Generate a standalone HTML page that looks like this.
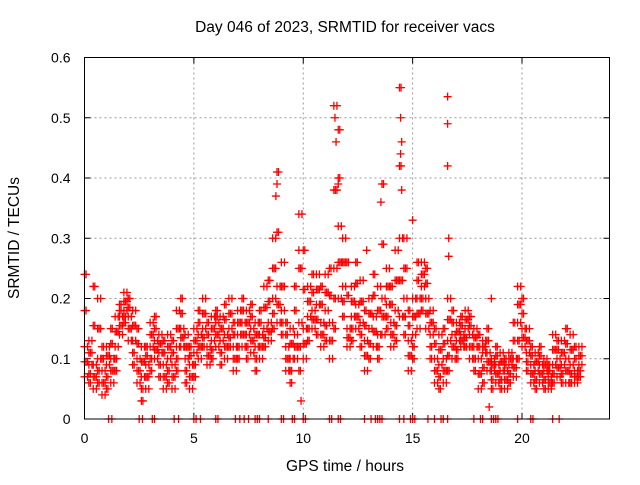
<!DOCTYPE html>
<html><head><meta charset="utf-8"><style>
body{margin:0;background:#fff;width:640px;height:480px;overflow:hidden}
svg{font-family:"Liberation Sans",sans-serif;font-size:14px}
</style></head><body>
<svg id="chart" width="640" height="480">
<text x="345" y="32" text-anchor="middle" font-size="15.5">Day 046 of 2023, SRMTID for receiver vacs</text>
<text x="345" y="471" text-anchor="middle" font-size="15.5">GPS time / hours</text>
<text transform="translate(19,238) rotate(-90)" text-anchor="middle" font-size="15.5">SRMTID / TECUs</text>
<g id="grid"></g>
<g id="ticks"></g>
<g id="marks"></g>
<rect x="84.5" y="57.5" width="525" height="361.5" fill="none" stroke="#000" stroke-width="1"/>
</svg>
<script>
const xTicks=[0,5,10,15,20];
const yTicks=[0,0.1,0.2,0.3,0.4,0.5,0.6];
const yTickLabels=["0","0.1","0.2","0.3","0.4","0.5","0.6"];
const times=[0,0.2,0.4,0.6,0.8,1,1.2,1.4,1.6,1.8,2,2.2,2.4,2.6,2.8,3,3.2,3.4,3.6,3.8,4,4.2,4.4,4.6,4.8,5,5.2,5.4,5.6,5.8,6,6.2,6.4,6.6,6.8,7,7.2,7.4,7.6,7.8,8,8.2,8.4,8.6,8.8,9,9.2,9.4,9.6,9.8,10,10.2,10.4,10.6,10.8,11,11.2,11.4,11.6,11.8,12,12.2,12.4,12.6,12.8,13,13.2,13.4,13.6,13.8,14,14.2,14.4,14.6,14.8,15,15.2,15.4,15.6,15.8,16,16.2,16.4,16.6,16.8,17,17.2,17.4,17.6,17.8,18,18.2,18.4,18.6,18.8,19,19.2,19.4,19.6,19.8,20,20.2,20.4,20.6,20.8,21,21.2,21.4,21.6,21.8,22,22.2,22.4,22.6];
const lowVals=[.07,.06,.05,.06,.04,.05,.06,.08,.14,.16,.13,.09,.06,.03,.05,.08,.10,.07,.05,.06,.05,.08,.12,.06,.05,.07,.10,.12,.09,.10,.12,.09,.10,.12,.08,.10,.12,.10,.11,.08,.10,.12,.13,.15,.16,.14,.08,.06,.10,.08,.10,.13,.15,.14,.12,.13,.10,.15,.20,.17,.12,.13,.15,.12,.08,.10,.12,.10,.14,.15,.12,.13,.17,.14,.08,.10,.15,.18,.15,.10,.06,.05,.06,.08,.10,.10,.12,.12,.10,.08,.05,.06,.08,.05,.06,.05,.05,.06,.07,.10,.12,.08,.06,.05,.06,.05,.05,.06,.07,.06,.06,.06,.06,.07];
const q1Vals=[.095,.075,.07,.08,.06,.07,.08,.10,.155,.17,.15,.11,.08,.05,.07,.10,.115,.09,.07,.08,.07,.10,.135,.08,.07,.09,.12,.135,.105,.115,.14,.11,.12,.135,.10,.12,.14,.12,.13,.10,.12,.135,.145,.175,.19,.16,.10,.08,.12,.12,.125,.15,.165,.165,.14,.155,.13,.20,.26,.195,.135,.15,.17,.14,.105,.125,.145,.12,.17,.17,.14,.155,.23,.17,.105,.12,.175,.20,.175,.12,.08,.07,.08,.105,.12,.115,.13,.135,.12,.10,.075,.085,.095,.065,.075,.065,.065,.075,.085,.13,.135,.095,.075,.065,.075,.065,.06,.075,.085,.075,.08,.075,.07,.08];
const midVals=[.12,.09,.09,.10,.08,.09,.10,.12,.17,.18,.17,.13,.10,.07,.09,.12,.13,.11,.09,.10,.09,.12,.15,.10,.09,.11,.14,.15,.12,.13,.16,.13,.14,.15,.12,.14,.16,.14,.15,.12,.14,.15,.16,.20,.22,.18,.12,.10,.14,.16,.15,.17,.18,.19,.16,.18,.16,.25,.32,.22,.15,.17,.19,.16,.13,.15,.17,.14,.20,.19,.16,.18,.30,.20,.13,.14,.20,.22,.20,.14,.10,.09,.10,.13,.14,.13,.14,.15,.14,.12,.10,.11,.11,.08,.09,.08,.08,.09,.10,.16,.15,.11,.09,.08,.09,.08,.07,.09,.10,.09,.10,.09,.08,.09];
const q3Vals=[.18,.11,.155,.15,.10,.105,.125,.145,.18,.195,.185,.155,.125,.095,.105,.14,.15,.125,.11,.12,.11,.15,.175,.12,.105,.13,.16,.175,.14,.15,.17,.15,.165,.175,.14,.16,.18,.16,.17,.14,.16,.185,.195,.25,.31,.22,.14,.125,.18,.25,.215,.195,.21,.215,.19,.21,.205,.38,.40,.26,.205,.195,.225,.195,.155,.175,.205,.18,.29,.22,.19,.23,.42,.25,.155,.17,.23,.24,.225,.16,.125,.115,.125,.165,.16,.145,.155,.165,.155,.135,.12,.12,.13,.09,.105,.095,.09,.10,.13,.19,.175,.13,.105,.095,.105,.09,.08,.115,.115,.11,.125,.115,.10,.105];
const highVals=[.24,.13,.22,.20,.12,.12,.15,.17,.19,.21,.20,.18,.15,.12,.12,.16,.17,.14,.13,.14,.13,.18,.20,.14,.12,.15,.18,.20,.16,.17,.18,.17,.19,.20,.16,.18,.20,.18,.19,.16,.18,.22,.23,.30,.41,.26,.16,.15,.22,.34,.28,.22,.24,.24,.22,.24,.25,.52,.48,.30,.26,.22,.26,.23,.18,.20,.24,.22,.39,.25,.22,.28,.55,.30,.18,.20,.26,.26,.25,.18,.15,.14,.15,.20,.18,.16,.17,.18,.17,.15,.14,.13,.15,.10,.12,.11,.10,.11,.16,.22,.20,.15,.12,.11,.12,.10,.09,.14,.13,.13,.15,.14,.12,.12];
const spikeTimes=[16.6,16.6,16.6,16.65,16.65,9.8,14.45,14.45,14.5,11.5,11.6,13.55,18.6,8.75,8.8,12.9,9.9,18.5,14.5,11.45,15.0];
const spikeVals=[.535,.49,.42,.30,.27,.28,.50,.44,.38,.46,.39,.36,.20,.37,.39,.28,.03,.02,.46,.50,.33];
const zeroTimes=[1.1,1.25,2.5,2.65,3.1,3.2,4.1,4.3,5.0,5.1,5.3,6.0,6.1,6.9,7.1,7.3,7.5,7.8,7.9,8.0,8.4,9.0,9.1,9.5,9.6,10.0,10.1,11.2,11.3,11.6,11.7,12.8,13.1,13.3,13.4,13.5,13.6,14.4,14.6,14.9,15.0,15.1,15.7,16.0,16.3,16.4,16.6,17.8,18.1,18.2,18.6,18.7,18.8,18.9,19.8,20.4,20.5,21.4,21.7];
const NS='http://www.w3.org/2000/svg';
const X0=84.5,X1=609.5,Y0=419,Y1=57.5;
const xs=t=>X0+(X1-X0)*t/24;
const ys=v=>Y0-(Y0-Y1)*v/0.6;
function mk(tag,attrs,parent){const e=document.createElementNS(NS,tag);for(const k in attrs)e.setAttribute(k,attrs[k]);parent.appendChild(e);return e;}
const grid=document.getElementById('grid'),ticks=document.getElementById('ticks'),marks=document.getElementById('marks');
xTicks.forEach(t=>{const x=xs(t);
 if(t>0){const g=mk('line',{x1:x,x2:x,y1:Y1,y2:Y0,stroke:'#999','stroke-dasharray':'2,3'},grid);
 
 }
 mk('line',{x1:x,x2:x,y1:Y0,y2:Y0-6,stroke:'#000'},ticks);
 mk('line',{x1:x,x2:x,y1:Y1,y2:Y1+6,stroke:'#000'},ticks);
 const l=mk('text',{x:x,y:Y0+24,'text-anchor':'middle'},ticks);l.textContent=t;
 
 });
yTicks.forEach((v,i)=>{const y=ys(v);
 if(v>0&&v<0.6){const g=mk('line',{x1:X0,x2:X1,y1:y,y2:y,stroke:'#999','stroke-dasharray':'2,3'},grid);
 
 }
 mk('line',{x1:X0,x2:X0+6,y1:y,y2:y,stroke:'#000'},ticks);
 mk('line',{x1:X1,x2:X1-6,y1:y,y2:y,stroke:'#000'},ticks);
 const l=mk('text',{x:X0-14,y:y+5,'text-anchor':'end'},ticks);l.textContent=yTickLabels[i];
 
 });
function cross(t,v,col){const x=xs(t),y=ys(v);
 const p=mk('path',{d:`M${x-4},${y}h8M${x},${y-4}v8`,stroke:col,'stroke-width':1.3,fill:'none'},marks);
 
 }
times.forEach((t,i)=>{
 const a=lowVals[i],b=q1Vals[i],m=midVals[i],c=q3Vals[i],h=highVals[i];
 cross(t,a,'#f00');cross(t,b,'#f00');cross(t,m,'#f00');cross(t,c,'#f00');cross(t,h,'#f00');
 cross(t+0.07,b,'#f00');cross(t+0.07,c,'#f00');cross(t+0.07,(i%2?a:h),'#f00');
 cross(t+0.14,m,'#f00');cross(t+0.14,(i%2?c:b),'#f00');cross(t+0.14,(i%2?h:a),'#f00');});
spikeTimes.forEach((t,i)=>cross(t,spikeVals[i],'#f00'));
zeroTimes.forEach(t=>cross(t,0,'#f00'));
</script>
</body></html>
